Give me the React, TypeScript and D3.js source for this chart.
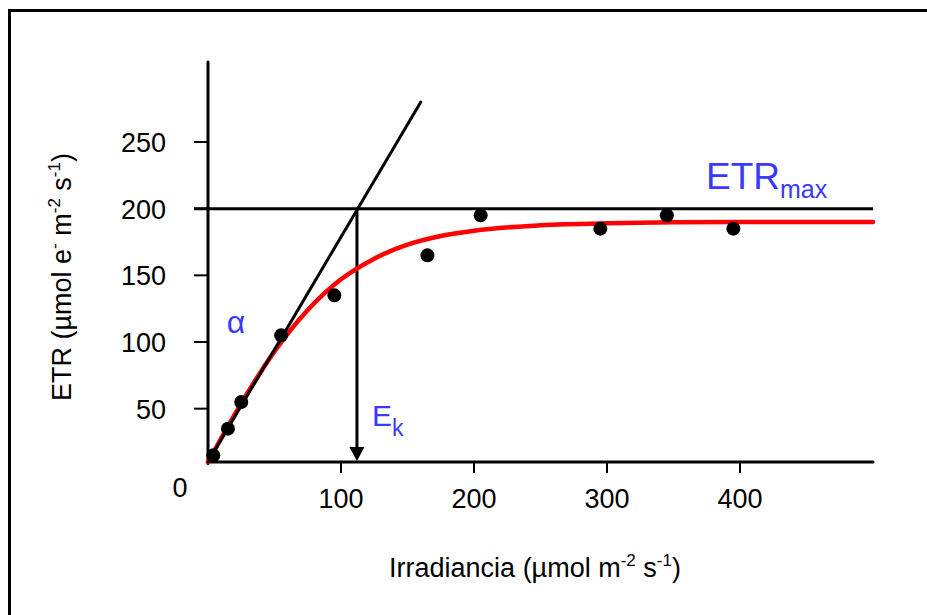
import React from "react";
import * as d3 from "d3";

const irradiance = [4, 15, 25, 55, 95, 165, 205, 295, 345, 395];
const etr = [15, 35, 55, 105, 135, 165, 195, 185, 195, 185];

const fitX = [0, 25, 50, 75, 100, 125, 150, 175, 200, 250, 300, 400, 500];
const fitY = [10, 54, 93, 124, 147, 162.5, 173, 179.5, 183.5, 187.5, 189, 190, 190];

const tangentX = [0, 160];
const tangentY = [10, 280];

const etrMax = 200;
const ek = 112;

const yTicks = [50, 100, 150, 200, 250];
const xTicks = [100, 200, 300, 400];

const BLUE = "#3a3aff";
const FONT = "'Liberation Sans', Arial, sans-serif";

export default function App() {
  const W = 927;
  const H = 615;
  const x = d3.scaleLinear().domain([0, 500]).range([208, 873]);
  const y = d3.scaleLinear().domain([10, 310]).range([462, 62]);

  const fitLine = d3
    .line<number>()
    .x((_, i) => x(fitX[i]))
    .y((d) => y(d))
    .curve(d3.curveMonotoneX)(fitY) as string;

  const x0 = x(0);
  const y0 = y(10);

  return (
    <svg
      width={W}
      height={H}
      style={{ position: "absolute", left: 0, top: 0, background: "#fff" }}
      fontFamily={FONT}
    >
      {/* outer border */}
      <rect x={9.5} y={10.5} width={1000} height={1000} fill="none" stroke="#000" strokeWidth={3} />

      {/* ETRmax horizontal line */}
      <line x1={x0 - 14} x2={x(500)} y1={y(etrMax)} y2={y(etrMax)} stroke="#000" strokeWidth={3} />

      {/* y axis */}
      <line x1={x0} x2={x0} y1={y(310)} y2={y0 + 1.5} stroke="#000" strokeWidth={3} strokeLinecap="round" />
      {yTicks.map((t) => (
        <g key={"y" + t}>
          <line x1={x0 - 14} x2={x0} y1={y(t)} y2={y(t)} stroke="#000" strokeWidth={2} />
          <text x={166} y={y(t) + 10} textAnchor="end" fontSize={27} fill="#000">
            {t}
          </text>
        </g>
      ))}

      {/* x axis */}
      <line x1={x0} x2={x(500)} y1={y0} y2={y0} stroke="#000" strokeWidth={3} strokeLinecap="round" />
      {xTicks.map((t) => (
        <g key={"x" + t}>
          <line x1={x(t)} x2={x(t)} y1={y0} y2={y0 + 11} stroke="#000" strokeWidth={2} />
          <text x={x(t)} y={508} textAnchor="middle" fontSize={27} fill="#000">
            {t}
          </text>
        </g>
      ))}
      <text x={180} y={497} textAnchor="middle" fontSize={27} fill="#000">
        0
      </text>

      {/* Ek arrow */}
      <line x1={x(ek)} x2={x(ek)} y1={y(etrMax)} y2={y0 - 14} stroke="#000" strokeWidth={3} />
      <path
        d={`M${x(ek) - 7.5},${y0 - 15} L${x(ek) + 7.5},${y0 - 15} L${x(ek)},${y0 - 1} Z`}
        fill="#000"
      />

      {/* fitted curve */}
      <path d={fitLine} fill="none" stroke="#ff0000" strokeWidth={4.5} strokeLinecap="round" />

      {/* tangent (alpha) line */}
      <line
        x1={x(tangentX[0])}
        y1={y(tangentY[0])}
        x2={x(tangentX[1])}
        y2={y(tangentY[1])}
        stroke="#000"
        strokeWidth={3}
        strokeLinecap="round"
      />

      {/* data points */}
      {irradiance.map((v, i) => (
        <circle key={"p" + i} cx={x(v)} cy={y(etr[i])} r={7} fill="#000" />
      ))}

      {/* annotations */}
      <text x={706} y={189} fontSize={37} fill={BLUE}>
        ETR
        <tspan fontSize={25} dy={9}>max</tspan>
      </text>
      <text x={236} y={333} textAnchor="middle" fontSize={32} fill={BLUE}>
        α
      </text>
      <text x={372} y={426} fontSize={30} fill={BLUE}>
        E
        <tspan fontSize={23} dy={10}>k</tspan>
      </text>

      {/* axis titles */}
      <text x={535} y={577} textAnchor="middle" fontSize={27} fill="#000">
        Irradiancia (µmol m
        <tspan fontSize={17} dy={-11}>-2</tspan>
        <tspan dy={11}> s</tspan>
        <tspan fontSize={17} dy={-11}>-1</tspan>
        <tspan dy={11}>)</tspan>
      </text>
      <text
        transform={`translate(71, 277) rotate(-90)`}
        textAnchor="middle"
        fontSize={27}
        fill="#000"
      >
        ETR (µmol e
        <tspan fontSize={17} dy={-11}>-</tspan>
        <tspan dy={11}> m</tspan>
        <tspan fontSize={17} dy={-11}>-2</tspan>
        <tspan dy={11}> s</tspan>
        <tspan fontSize={17} dy={-11}>-1</tspan>
        <tspan dy={11}>)</tspan>
      </text>
    </svg>
  );
}
